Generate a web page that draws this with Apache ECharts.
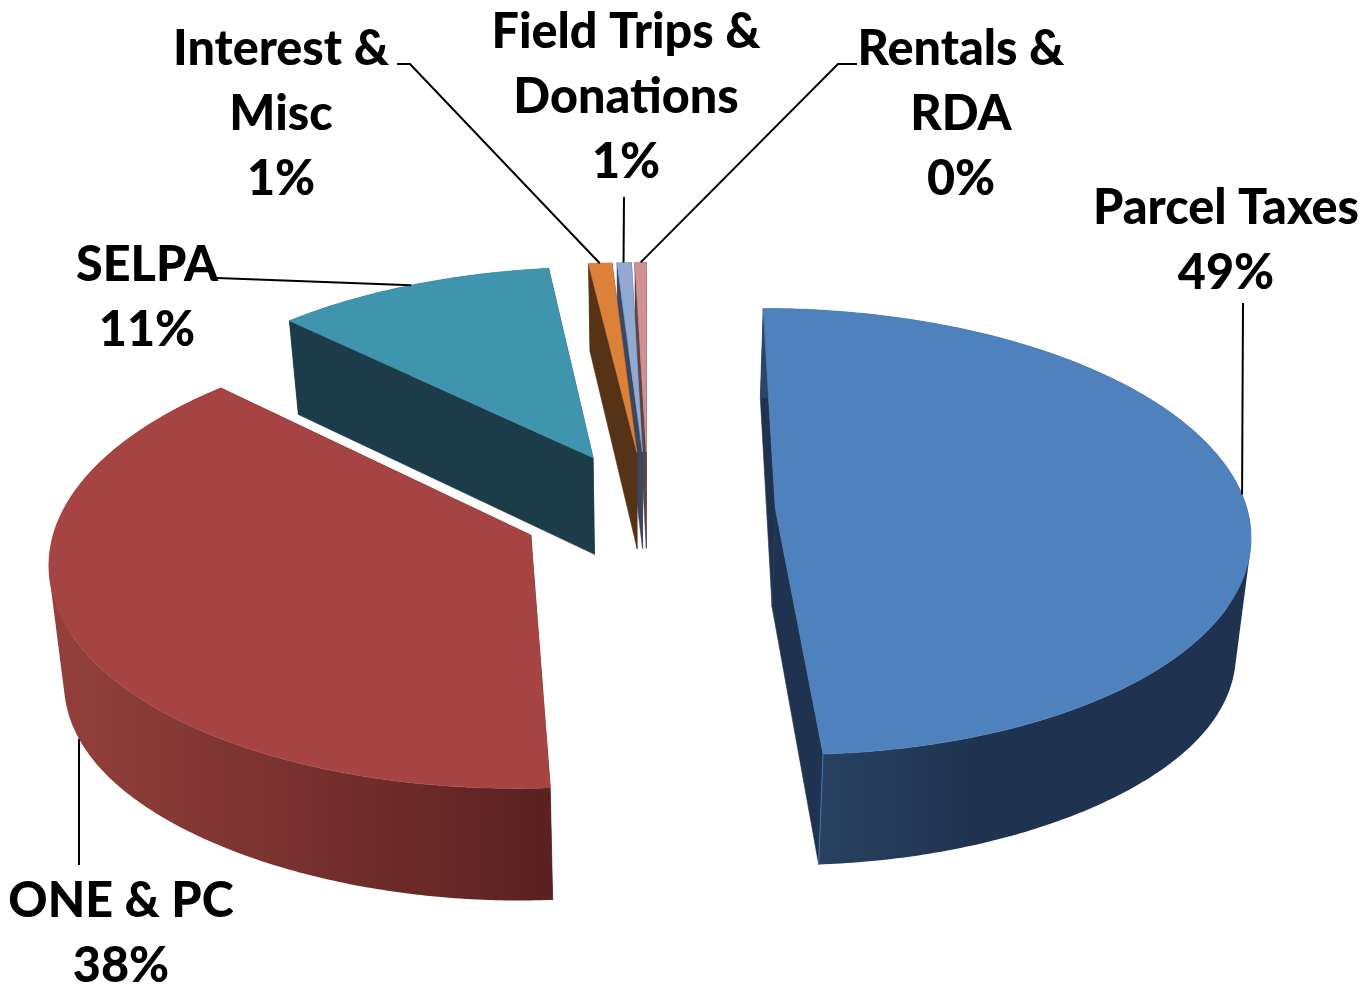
<!DOCTYPE html>
<html>
<head>
<meta charset="utf-8">
<style>html,body{margin:0;padding:0;background:#fff}#c{width:1368px;height:986px}</style>
<script src="https://cdn.jsdelivr.net/npm/echarts@6/dist/echarts.min.js"></script>
</head>
<body>
<div id="c"></div>
<script>
// DATA
const categories = ['Parcel Taxes', 'ONE & PC', 'SELPA', 'Interest &\nMisc', 'Field Trips &\nDonations', 'Rentals &\nRDA'];
const shares = [49, 38.3, 10.8, 0.9, 0.55, 0.44];

// STYLE / LAYOUT
const topColors = ['#4f81bd', '#a54442', '#4095ae', '#dc803a', '#92a9d3', '#cf9192'];
const wallColors = [['#2b4666', '#1f3350'], ['#94403c', '#5a2120'], ['#1b3c48', '#1b3c48'], ['#563316', '#563316'], ['#3b475e', '#3b475e'], ['#5f4243', '#5f4243']];
const wallStops = [0.45, 1, 1, 1, 1, 1];
const cutColors = ['#1f3350', '#5a2120', '#1b3c48', '#563316', '#3b475e', '#5f4243'];
const edgeColors = ['#4a76ab', null, null, null, null, null];
const paintOrder = [5, 4, 3, 2, 0, 1];
const labelCentres = [[1226, 241], [121, 934], [147, 298], [281, 114], [626, 97], [961, 114]];
const leaderStarts = [[[1243, 303]], [[79, 865]], [[217, 278]], [[397, 64], [410, 64]], [[624, 197]], [[857, 64], [838, 64]]];
const leaderAlong = [0.49, 0.52, 0.5, 0.48, 0.45, 0.5];
const leaderOnBase = [false, true, false, false, false, false];
const scene = { x0: 648, y0: 510, rx: 472, ry: 221, persp: 0.105, explode: 0.27, depth: 99, baseShrink: 0.975, sideSag: 0.15 };

const total = shares.reduce((a, b) => a + b, 0);
const startAngles = [];
shares.reduce((acc, v, i) => { startAngles[i] = acc; return acc + v / total * Math.PI * 2; }, 0);

function project(u, v, onBase, sag) {
  const s = 1 / (1 + scene.persp * v);
  const k = onBase ? scene.baseShrink : 1;
  return [scene.x0 + scene.rx * u * s * k, scene.y0 - scene.ry * v * s + (onBase ? scene.depth * s * (1 + sag) : 0)];
}
function sliceGeom(i) {
  const a0 = startAngles[i], a1 = a0 + shares[i] / total * Math.PI * 2, mid = (a0 + a1) / 2;
  const ou = scene.explode * Math.sin(mid), ov = scene.explode * Math.cos(mid);
  const rim = (a, base) => project(ou + Math.sin(a), ov + Math.cos(a), base, scene.sideSag * Math.pow(Math.sin(a), 4));
  const apex = base => project(ou, ov, base, 0);
  return { a0, a1, rim, apex };
}
function quadPath(q) {
  let area = 0;
  q.forEach((p, k) => { const r = q[(k + 1) % 4]; area += p[0] * r[1] - r[0] * p[1]; });
  const pts = area < 0 ? q.slice().reverse() : q;
  return 'M' + pts.map(p => p[0].toFixed(2) + ' ' + p[1].toFixed(2)).join('L') + 'Z';
}
function renderSlice(params, api) {
  const i = api.value(0);
  const g = sliceGeom(i);
  const n = Math.max(4, Math.ceil((g.a1 - g.a0) * 90));
  const topArc = [], baseArc = [];
  for (let k = 0; k <= n; k++) {
    const a = g.a0 + (g.a1 - g.a0) * k / n;
    topArc.push(g.rim(a, false));
    baseArc.push(g.rim(a, true));
  }
  const all = topArc.concat(baseArc);
  const xs = all.map(p => p[0]), ys = all.map(p => p[1]);
  const xMin = Math.min.apply(null, xs), xMax = Math.max.apply(null, xs);
  const yMin = Math.min.apply(null, ys), yMax = Math.max.apply(null, ys);
  const grad = new echarts.graphic.LinearGradient(xMin, 0, xMax, 0, [
    { offset: 0, color: wallColors[i][0] },
    { offset: wallStops[i], color: wallColors[i][1] },
    { offset: 1, color: wallColors[i][1] }
  ], true);
  const children = [];
  const face = (pts, fill) => children.push({ type: 'polygon', shape: { points: pts }, style: { fill: fill, stroke: fill, lineWidth: 0.6 } });
  face([topArc[0], g.apex(false), g.apex(true), baseArc[0]], cutColors[i]);
  face([topArc[n], g.apex(false), g.apex(true), baseArc[n]], cutColors[i]);
  let pathData = '';
  for (let k = 0; k < n; k++) pathData += quadPath([topArc[k], topArc[k + 1], baseArc[k + 1], baseArc[k]]);
  children.push({ type: 'path', shape: { pathData: pathData, layout: 'cover', x: xMin, y: yMin, width: xMax - xMin, height: yMax - yMin }, style: { fill: grad } });
  if (edgeColors[i]) {
    children.push({ type: 'line', shape: { x1: topArc[n][0], y1: topArc[n][1], x2: baseArc[n][0], y2: baseArc[n][1] }, style: { stroke: edgeColors[i], lineWidth: 1 } });
  }
  face([g.apex(false)].concat(topArc), topColors[i]);
  return { type: 'group', children: children };
}
function renderNote(params, api) {
  const i = api.value(0);
  const g = sliceGeom(i);
  const end = g.rim(g.a0 + (g.a1 - g.a0) * leaderAlong[i], leaderOnBase[i]);
  const c = labelCentres[i];
  return { type: 'group', children: [
    { type: 'polyline', shape: { points: leaderStarts[i].concat([end]) }, style: { stroke: '#000', lineWidth: 2, fill: null } },
    { type: 'text', x: c[0], y: c[1], style: {
        text: categories[i] + '\n' + Math.round(shares[i]) + '%',
        fill: '#000', font: '900 48.5px Lato', lineHeight: 65, align: 'center', verticalAlign: 'middle'
    } }
  ] };
}
const chart = echarts.init(document.getElementById('c'), null, { renderer: 'canvas', width: 1368, height: 986 });
chart.setOption({
  animation: false,
  backgroundColor: '#ffffff',
  series: [
    { type: 'custom', coordinateSystem: 'none', silent: true, clip: false, z: 2, renderItem: renderSlice,
      data: paintOrder.map(i => [i, categories[i], shares[i]]) },
    { type: 'custom', coordinateSystem: 'none', silent: true, clip: false, z: 3, renderItem: renderNote,
      data: categories.map((name, i) => [i, name, shares[i]]) }
  ]
});
</script>
</body>
</html>
